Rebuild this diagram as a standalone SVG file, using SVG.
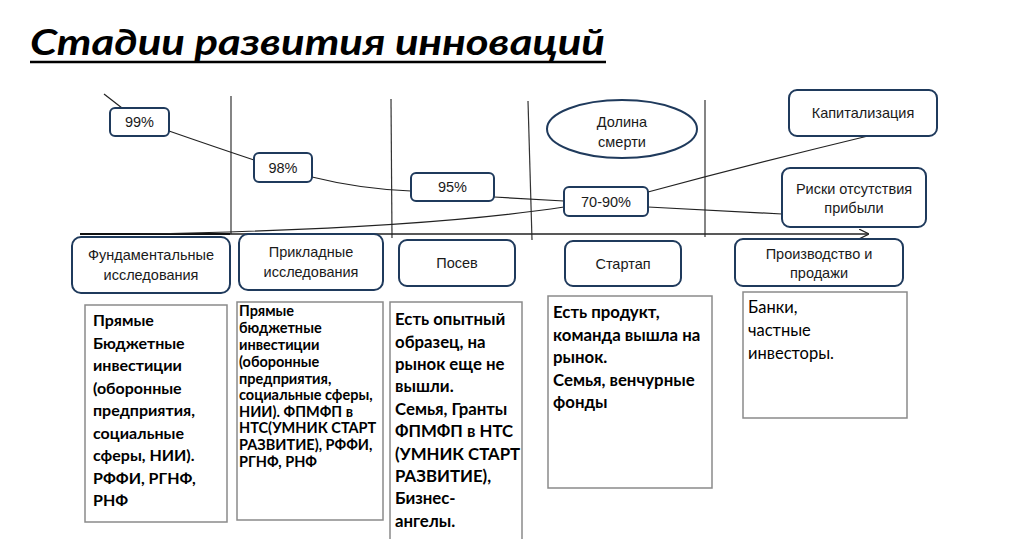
<svg xmlns="http://www.w3.org/2000/svg" width="1024" height="539" viewBox="0 0 1024 539">
<defs>
<style>
.nb{fill:#fff;stroke:#1f3a5c;stroke-width:2}
.tb{fill:#fff;stroke:#8a8a8a;stroke-width:1.5}
.lb{font-family:"Liberation Sans",Arial,sans-serif;font-size:14.5px;fill:#1a1a1a;text-anchor:middle}
.bt{font-family:Lato,"Open Sans",sans-serif;font-size:16px;font-weight:bold;fill:#000}
.bt2{font-family:Lato,"Open Sans",sans-serif;font-size:16.8px;font-weight:bold;fill:#000}
.st{font-family:Lato,"Open Sans",sans-serif;font-size:14.5px;font-weight:bold;fill:#000}
.nt{font-family:Lato,"Open Sans",sans-serif;font-size:16.5px;fill:#000}
.ln{fill:none;stroke:#222;stroke-width:1.2}
.vl{stroke:#333;stroke-width:1.2}
</style>
<marker id="ar" viewBox="0 0 10 10" refX="9" refY="5" markerWidth="10" markerHeight="10" markerUnits="userSpaceOnUse" orient="auto">
<path d="M0,0 L10,5 L0,10" fill="none" stroke="#222" stroke-width="1.2"/>
</marker>
</defs>
<rect width="1024" height="539" fill="#fff"/>
<g id="title">
<text x="30" y="55" font-family="Lato,'Open Sans',sans-serif" font-size="36" font-weight="bold" font-style="italic" textLength="575" lengthAdjust="spacingAndGlyphs">Стадии развития инноваций</text>
<line x1="30" y1="62" x2="606" y2="62" stroke="#000" stroke-width="2.5"/>
</g>
<g id="connectors">
<line class="vl" x1="231" y1="96" x2="231" y2="234"/>
<line class="vl" x1="391" y1="99" x2="392" y2="238"/>
<line class="vl" x1="528" y1="101" x2="532" y2="240"/>
<line class="vl" x1="705" y1="100" x2="705" y2="237"/>
<line x1="80" y1="234" x2="868" y2="234" stroke="#222" stroke-width="1.5" marker-end="url(#ar)"/>
<line x1="80" y1="234" x2="230" y2="234" stroke="#111" stroke-width="2"/>
<path class="ln" d="M104,94 L122,108"/>
<path class="ln" d="M169,131 Q215,147 254,160"/>
<path class="ln" d="M312,177 Q360,189 411,191"/>
<path class="ln" d="M494,197 L564,201"/>
<path class="ln" d="M140,234 Q420,229 564,207"/>
<path class="ln" d="M648,192 Q760,162 868,136"/>
<path class="ln" d="M648,207 L782,214"/>
</g>
<g id="n99"><rect class="nb" x="110" y="108" width="59" height="28" rx="5"/><text class="lb" x="139.5" y="127">99%</text></g>
<g id="n98"><rect class="nb" x="254" y="153" width="58" height="29" rx="5"/><text class="lb" x="283" y="172.5">98%</text></g>
<g id="n95"><rect class="nb" x="411" y="173" width="83" height="28" rx="5"/><text class="lb" x="452.5" y="192">95%</text></g>
<g id="n7090"><rect class="nb" x="564" y="187" width="84" height="29" rx="5"/><text class="lb" x="606" y="206.5">70-90%</text></g>
<g id="dolina"><ellipse class="nb" cx="622" cy="129" rx="75" ry="29"/><text class="lb" x="622" y="127" font-size="15.5">Долина</text><text class="lb" x="622" y="147" font-size="15.5">смерти</text></g>
<g id="kap"><rect class="nb" x="789" y="90" width="148" height="46" rx="8"/><text class="lb" x="863" y="118">Капитализация</text></g>
<g id="riski"><rect class="nb" x="782" y="168" width="144" height="59" rx="8"/><text class="lb" x="854" y="194">Риски отсутствия</text><text class="lb" x="854" y="213">прибыли</text></g>
<g id="fund"><rect class="nb" x="72" y="237" width="158" height="56" rx="9"/><text class="lb" x="151" y="260">Фундаментальные</text><text class="lb" x="151" y="280">исследования</text></g>
<g id="prikl"><rect class="nb" x="239" y="234" width="144" height="56" rx="9"/><text class="lb" x="311" y="257">Прикладные</text><text class="lb" x="311" y="277">исследования</text></g>
<g id="posev"><rect class="nb" x="399" y="240" width="116" height="46" rx="8"/><text class="lb" x="457" y="268">Посев</text></g>
<g id="startap"><rect class="nb" x="565" y="241" width="116" height="45" rx="8"/><text class="lb" x="623" y="269">Стартап</text></g>
<g id="proizv"><rect class="nb" x="735" y="239" width="168" height="47" rx="8"/><text class="lb" x="819" y="259">Производство и</text><text class="lb" x="819" y="278">продажи</text></g>
<g id="t1"><rect class="tb" x="85" y="305" width="142" height="217"/>
<text class="bt" x="93" y="0"><tspan x="93" y="326">Прямые</tspan><tspan x="93" y="348.5">Бюджетные</tspan><tspan x="93" y="371">инвестиции</tspan><tspan x="93" y="393.5">(оборонные</tspan><tspan x="93" y="416">предприятия,</tspan><tspan x="93" y="438.5">социальные</tspan><tspan x="93" y="461">сферы, НИИ).</tspan><tspan x="93" y="483.5">РФФИ, РГНФ,</tspan><tspan x="93" y="506">РНФ</tspan></text></g>
<g id="t2"><rect class="tb" x="237" y="302" width="146" height="218"/>
<text class="st" x="239" y="0"><tspan x="239" y="316">Прямые</tspan><tspan x="239" y="333">бюджетные</tspan><tspan x="239" y="350">инвестиции</tspan><tspan x="239" y="367">(оборонные</tspan><tspan x="239" y="383.5">предприятия,</tspan><tspan x="239" y="400">социальные сферы,</tspan><tspan x="239" y="416.5">НИИ). ФПМФП в</tspan><tspan x="239" y="433">НТС(УМНИК СТАРТ</tspan><tspan x="239" y="450">РАЗВИТИЕ), РФФИ,</tspan><tspan x="239" y="467">РГНФ, РНФ</tspan></text></g>
<g id="t3"><rect class="tb" x="390" y="302" width="132" height="240"/>
<text class="bt2" x="395" y="0"><tspan x="395" y="325">Есть опытный</tspan><tspan x="395" y="347.5">образец, на</tspan><tspan x="395" y="370">рынок еще не</tspan><tspan x="395" y="392">вышли.</tspan><tspan x="395" y="414.5">Семья, Гранты</tspan><tspan x="395" y="437">ФПМФП в НТС</tspan><tspan x="395" y="459.5">(УМНИК СТАРТ</tspan><tspan x="395" y="482">РАЗВИТИЕ),</tspan><tspan x="395" y="504">Бизнес-</tspan><tspan x="395" y="526.5">ангелы.</tspan></text></g>
<g id="t4"><rect class="tb" x="548" y="296" width="164" height="192"/>
<text class="bt2" x="553" y="0"><tspan x="553" y="318">Есть продукт,</tspan><tspan x="553" y="340.5">команда вышла на</tspan><tspan x="553" y="363">рынок.</tspan><tspan x="553" y="385.5">Семья, венчурные</tspan><tspan x="553" y="408">фонды</tspan></text></g>
<g id="t5"><rect class="tb" x="743" y="292" width="164" height="126"/>
<text class="nt" x="748" y="0"><tspan x="748" y="313">Банки,</tspan><tspan x="748" y="336">частные</tspan><tspan x="748" y="359">инвесторы.</tspan></text></g>
</svg>
